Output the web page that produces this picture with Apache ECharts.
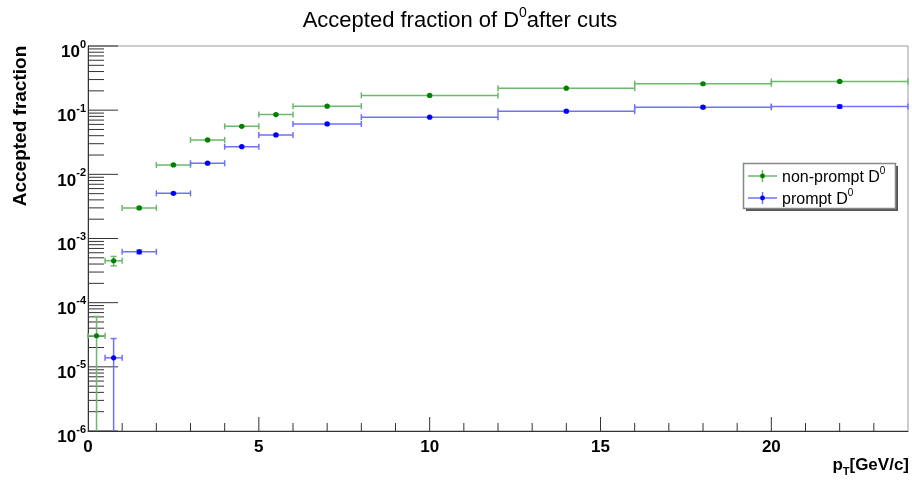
<!DOCTYPE html>
<html>
<head>
<meta charset="utf-8">
<title>Accepted fraction of D0 after cuts</title>
<script src="https://cdn.jsdelivr.net/npm/echarts@6/dist/echarts.min.js"></script>
<style>
  html, body { margin: 0; padding: 0; background: #ffffff; }
  #chart { width: 912px; height: 481px; }
</style>
</head>
<body>
<div id="chart"></div>
<script>
// pT bin edges in GeV/c
const binEdges = [0, 0.5, 1, 2, 3, 4, 5, 6, 8, 12, 16, 20, 24];

// accepted fraction per bin and its uncertainty
const nonPromptFrac = [3.05e-5, 4.5e-4, 3.0e-3, 0.0140, 0.0344, 0.0560, 0.0855, 0.1155, 0.170, 0.220, 0.258, 0.280];
const nonPromptErr  = [3.05e-5, 0.75e-4, 1.2e-4, 4e-4, 8e-4, 1.2e-3, 1.6e-3, 1.8e-3, 2.2e-3, 3e-3, 5e-3, 8e-3];
const promptFrac    = [null, 1.38e-5, 6.2e-4, 5.05e-3, 0.0149, 0.0270, 0.0412, 0.0610, 0.0778, 0.0964, 0.1114, 0.114];
const promptErr     = [null, 1.38e-5, 4e-5, 1.5e-4, 4e-4, 6e-4, 9e-4, 1.2e-3, 1.5e-3, 2.5e-3, 4e-3, 6e-3];

// axis ranges and labelled ticks
const xMin = 0, xMax = 24;
const xLabelTicks = [0, 5, 10, 15, 20];
const yMin = 1e-6, yMax = 1;
const yDecades = [-6, -5, -4, -3, -2, -1, 0];

const FONT = "'Liberation Sans', Arial, Helvetica, sans-serif";
const GREEN_MARK = '#008000', GREEN_LINE = '#6cb86c';
const BLUE_MARK = '#0000ff', BLUE_LINE = '#7070ff';
const TICK_COLOR = '#333333';

// [center, value, lowEdge, highEdge, error]
function binnedPoints(values, errors) {
  const out = [];
  for (let i = 0; i < values.length; i++) {
    if (values[i] == null) continue;
    const lo = binEdges[i], hi = binEdges[i + 1];
    out.push([(lo + hi) / 2, values[i], lo, hi, errors[i]]);
  }
  return out;
}

// ROOT-style log ticks: long at decades, short at 2..9
const tickData = [];
yDecades.forEach(function (e) {
  const base = Math.pow(10, e);
  const kMax = e === 0 ? 1 : 9;
  for (let k = 1; k <= kMax; k++) tickData.push([xMin, k * base, k === 1 ? 30 : 16, 0]);
});
for (let v = xMin + 1; v < xMax; v++) tickData.push([v, yMin, v % 5 === 0 ? 14 : 8, 1]);

function renderTick(params, api) {
  const len = api.value(2), dir = api.value(3);
  const p = api.coord([api.value(0), api.value(1)]);
  const shape = dir === 0
    ? { x1: p[0], y1: p[1], x2: p[0] + len, y2: p[1] }
    : { x1: p[0], y1: p[1], x2: p[0], y2: p[1] - len };
  return { type: 'line', shape: shape, style: { stroke: TICK_COLOR, lineWidth: 1 } };
}

function errorBarRenderer(markColor, lineColor) {
  return function (params, api) {
    const x = api.value(0), y = api.value(1), lo = api.value(2), hi = api.value(3), ey = api.value(4);
    const c = api.coord([x, y]);
    const cl = api.coord([lo, y]);
    const ch = api.coord([hi, y]);
    const cs = params.coordSys;
    const bottom = cs.y + cs.height;
    const top = api.coord([x, y + ey])[1];
    const hasLow = (y - ey) > yMin;
    const bot = hasLow ? api.coord([x, y - ey])[1] : bottom;
    const st = { stroke: lineColor, lineWidth: 1.5 };
    const cap = 3;
    const children = [
      { type: 'line', shape: { x1: cl[0], y1: c[1], x2: ch[0], y2: c[1] }, style: st },
      { type: 'line', shape: { x1: cl[0], y1: c[1] - cap, x2: cl[0], y2: c[1] + cap }, style: st },
      { type: 'line', shape: { x1: ch[0], y1: c[1] - cap, x2: ch[0], y2: c[1] + cap }, style: st },
      { type: 'line', shape: { x1: c[0], y1: top, x2: c[0], y2: bot }, style: st },
      { type: 'line', shape: { x1: c[0] - cap, y1: top, x2: c[0] + cap, y2: top }, style: st }
    ];
    if (hasLow) {
      children.push({ type: 'line', shape: { x1: c[0] - cap, y1: bot, x2: c[0] + cap, y2: bot }, style: st });
    }
    children.push({ type: 'circle', shape: { cx: c[0], cy: c[1], r: 2.6 }, style: { fill: markColor } });
    return { type: 'group', children: children };
  };
}

function legendEntry(y, markColor, lineColor, name) {
  return [
    { type: 'line', z: 12, shape: { x1: 748, y1: y, x2: 777, y2: y }, style: { stroke: lineColor, lineWidth: 1.5 } },
    { type: 'line', z: 12, shape: { x1: 762.5, y1: y - 6, x2: 762.5, y2: y + 6 }, style: { stroke: lineColor, lineWidth: 1.5 } },
    { type: 'circle', z: 13, shape: { cx: 762.5, cy: y, r: 2.4 }, style: { fill: markColor } },
    {
      type: 'text', z: 13, x: 782, y: y, style: {
        text: '{t|' + name + ' D}{s|0}', textVerticalAlign: 'middle', fill: '#000',
        rich: {
          t: { fontFamily: FONT, fontSize: 16, lineHeight: 20, verticalAlign: 'bottom', fill: '#000' },
          s: { fontFamily: FONT, fontSize: 10, lineHeight: 10, verticalAlign: 'top', fill: '#000' }
        }
      }
    }
  ];
}

const chart = echarts.init(document.getElementById('chart'), null, { renderer: 'canvas' });

chart.setOption({
  animation: false,
  backgroundColor: '#ffffff',
  grid: { left: 88, right: 4, top: 46, bottom: 50, show: true, borderColor: '#999999', borderWidth: 1, backgroundColor: 'transparent' },
  xAxis: {
    type: 'value', min: xMin, max: xMax, interval: 5,
    axisLine: { show: true, lineStyle: { color: TICK_COLOR, width: 1 } },
    axisTick: { show: false }, splitLine: { show: false },
    axisLabel: {
      margin: 8, color: '#000', fontFamily: FONT, fontSize: 17, fontWeight: 'bold',
      showMaxLabel: false,
      formatter: function (v) { return xLabelTicks.indexOf(v) >= 0 ? String(v) : ''; }
    }
  },
  yAxis: {
    type: 'log', logBase: 10, min: yMin, max: yMax, interval: 1,
    axisLine: { show: true, lineStyle: { color: TICK_COLOR, width: 1 } },
    axisTick: { show: false }, splitLine: { show: false },
    axisLabel: {
      margin: 2, color: '#000', padding: [8, 0, 0, 0],
      formatter: function (v) {
        const e = Math.round(Math.log10(v));
        return '{b|10}{s|' + e + '}';
      },
      rich: {
        b: { fontFamily: FONT, fontSize: 17, fontWeight: 'bold', lineHeight: 22, verticalAlign: 'bottom', color: '#000' },
        s: { fontFamily: FONT, fontSize: 11, fontWeight: 'bold', lineHeight: 11, verticalAlign: 'top', color: '#000' }
      }
    }
  },
  series: [
    {
      type: 'custom', name: 'ticks', renderItem: renderTick, data: tickData,
      encode: { x: 0, y: 1 }, clip: false, silent: true, z: 1
    },
    {
      type: 'custom', name: 'non-prompt D0', renderItem: errorBarRenderer(GREEN_MARK, GREEN_LINE),
      data: binnedPoints(nonPromptFrac, nonPromptErr), encode: { x: 0, y: 1 }, clip: false, z: 3
    },
    {
      type: 'custom', name: 'prompt D0', renderItem: errorBarRenderer(BLUE_MARK, BLUE_LINE),
      data: binnedPoints(promptFrac, promptErr), encode: { x: 0, y: 1 }, clip: false, z: 3
    }
  ],
  graphic: [
    {
      type: 'text', x: 460, y: 19, style: {
        text: '{t|Accepted fraction of D}{s|0}{t|after cuts}', textAlign: 'center', textVerticalAlign: 'middle',
        rich: {
          t: { fontFamily: FONT, fontSize: 22, lineHeight: 26, verticalAlign: 'bottom', fill: '#000' },
          s: { fontFamily: FONT, fontSize: 14, lineHeight: 14, verticalAlign: 'top', fill: '#000' }
        }
      }
    },
    {
      type: 'text', x: 21, y: 126, rotation: Math.PI / 2, style: {
        text: 'Accepted fraction', textAlign: 'center', textVerticalAlign: 'middle',
        fontFamily: FONT, fontSize: 19, fontWeight: 'bold', fill: '#000'
      }
    },
    {
      type: 'text', x: 909, y: 467, style: {
        text: '{b|p}{sub|T}{b|[GeV/c]}', textAlign: 'right', textVerticalAlign: 'middle',
        rich: {
          b: { fontFamily: FONT, fontSize: 17, fontWeight: 'bold', lineHeight: 20, verticalAlign: 'top', fill: '#000' },
          sub: { fontFamily: FONT, fontSize: 11, fontWeight: 'bold', lineHeight: 11, verticalAlign: 'bottom', fill: '#000' }
        }
      }
    },
    { type: 'rect', z: 10, shape: { x: 746, y: 166, width: 152, height: 45 }, style: { fill: '#555555' } },
    { type: 'rect', z: 11, shape: { x: 743.5, y: 163.5, width: 152, height: 45 }, style: { fill: '#ffffff', stroke: '#888888', lineWidth: 1.5 } }
  ].concat(legendEntry(176, GREEN_MARK, GREEN_LINE, 'non-prompt'))
   .concat(legendEntry(198, BLUE_MARK, BLUE_LINE, 'prompt'))
});
</script>
</body>
</html>
